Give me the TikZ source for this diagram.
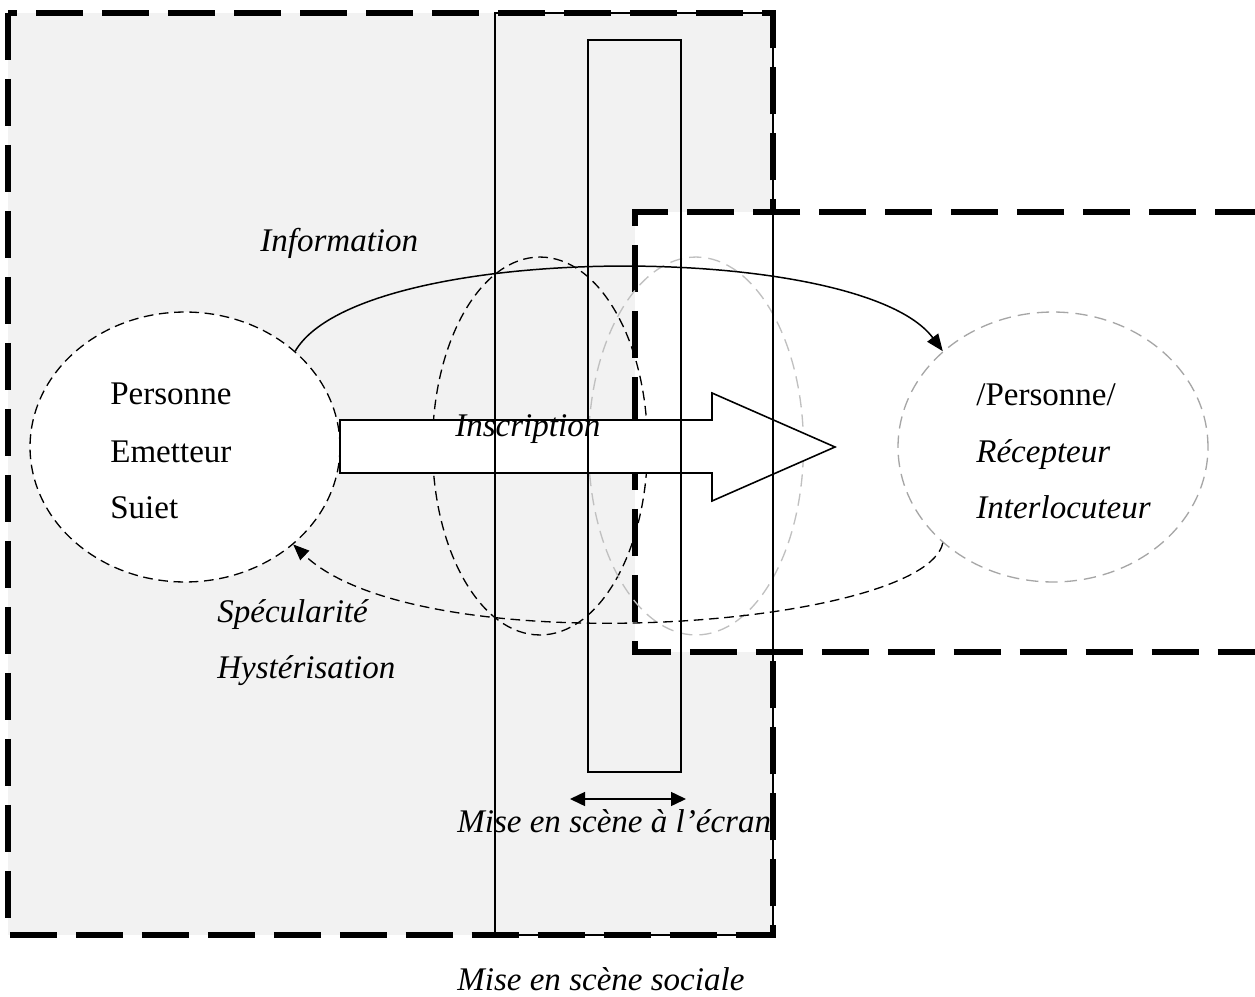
\documentclass[tikz,border=0pt]{standalone}
\usepackage{fontspec}
\setmainfont{Liberation Serif}
\usetikzlibrary{shapes.geometric,arrows.meta}
\definecolor{bggray}{HTML}{F2F2F2}
\definecolor{elgray}{HTML}{A6A6A6}
\definecolor{elgraylight}{HTML}{C0C0C0}
\begin{document}
\begin{tikzpicture}[x=0.02cm,y=-0.02cm,
  thickdash/.style={line width=2.9pt, dash pattern=on 0.94cm off 0.38cm},
  fineline/.style={line width=0.85pt},
  eldash/.style={line width=0.75pt, dash pattern=on 5.5pt off 3.2pt},
  eldashgray/.style={line width=0.75pt, dash pattern=on 7pt off 4pt},
  bigell/.style={ellipse, minimum width=6.2cm, minimum height=5.4cm, inner sep=0pt},
  midell/.style={ellipse, minimum width=4.3cm, minimum height=7.56cm, inner sep=0pt},
  lbl/.style={anchor=base west, inner sep=0pt, font=\fontsize{18.8}{22}\selectfont},
  itlbl/.style={anchor=base west, inner sep=0pt, font=\fontsize{18.8}{22}\selectfont\itshape}
]
\useasboundingbox (0,0) rectangle (1255,997);

% grey social area
\fill[bggray] (8,13) rectangle (773,935);
\node[itlbl] (ecran) at (457,832) {Mise en scène à l’écran};
\draw[thickdash] (8,13) rectangle (773,935);

% right white area
\fill[white] (635,212) rectangle (1262,652);
\draw[thickdash] (1262,212) -- (635,212) -- (635,652) -- (1262,652);

% ellipses
\node[bigell, draw, eldash, fill=white] (L) at (185,447) {};
\node[midell, draw, eldash] (M1) at (540,446) {};
\node[midell, draw=elgraylight, eldashgray] (M2) at (696,446) {};
\node[bigell, draw=elgray, eldashgray] (R) at (1053,447) {};

% connectors
\draw[fineline, -{Triangle[length=0.34cm, width=0.27cm]}] (L.41) .. controls (360,240) and (860,240) .. (R.139);
\draw[eldash, -{Triangle[length=0.32cm, width=0.26cm]}] (R.221) .. controls (925,628) and (420,665) .. (L.318);

% big arrow (inscription)
\draw[fill=white, line width=0.9pt] (340,420) -- (712,420) -- (712,393) -- (835,447) -- (712,501) -- (712,473) -- (340,473) -- cycle;

% columns
\draw[fineline] (495,13) rectangle (773,935);
\draw[fineline] (588,40) rectangle (681,772);

% labels
\node[itlbl] (info) at (260,252) {Information};
\node[itlbl] (inscr) at (455,436) {Inscription};
\node[lbl] (p1) at (110,404) {Personne};
\node[lbl] (p2) at (110,462) {Emetteur};
\node[lbl] (p3) at (110,518) {Suiet};
\node[lbl] (r1) at (976,405) {/Personne/};
\node[itlbl] (r2) at (976,462) {Récepteur};
\node[itlbl] (r3) at (976,518) {Interlocuteur};
\node[itlbl] (spec) at (217,622) {Spécularité};
\node[itlbl] (hyst) at (217,678) {Hystérisation};
\node[itlbl] (sociale) at (457,990) {Mise en scène sociale};

% double arrow
\coordinate (da1) at (570,799);
\coordinate (da2) at (686,799);
\draw[fineline, {Triangle[length=0.3cm, width=0.28cm]}-{Triangle[length=0.3cm, width=0.28cm]}] (da1) -- (da2);
\end{tikzpicture}
\end{document}
